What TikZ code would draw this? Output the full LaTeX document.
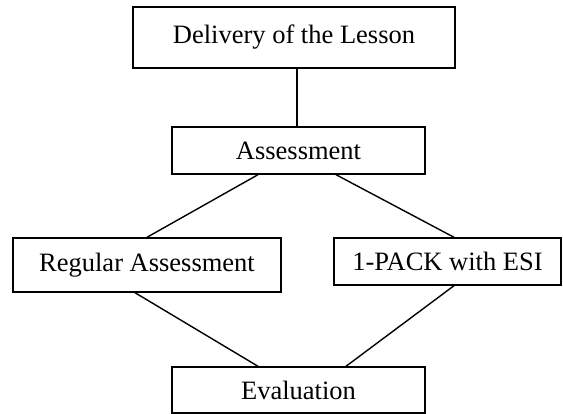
\documentclass[tikz,border=0pt]{standalone}
\usepackage{fontspec}
\setmainfont{Liberation Serif}
\begin{document}
\begin{tikzpicture}[x=1pt,y=1pt,
  box/.style={draw=black, line width=1.4pt, rectangle, inner sep=0pt, align=center,
    font=\fontsize{26.5}{30}\selectfont},
  link/.style={draw=black, line width=1.4pt}]
\useasboundingbox (0,0) rectangle (563,414);
\fill[white] (0,0) rectangle (563,414);
\node[box, minimum width=322pt, minimum height=61pt] (A) at (294,376.5) {Delivery of the Lesson};
\node[box, minimum width=253pt, minimum height=47pt] (B) at (298.5,263.5) {Assessment};
\node[box, minimum width=268pt, minimum height=54pt] (C) at (147,149) {Regular Assessment};
\node[box, minimum width=227pt, minimum height=47pt] (D) at (447.5,152.5) {1-PACK with ESI};
\node[box, minimum width=253pt, minimum height=46pt] (E) at (298.5,24) {Evaluation};
\draw[link] ([xshift=3pt]A.south) -- ([xshift=-1.5pt]B.north);
\draw[link] ([xshift=-40.5pt]B.south) -- (C.north);
\draw[link] ([xshift=37.5pt]B.south) -- ([xshift=6.5pt]D.north);
\draw[link] ([xshift=-12pt]C.south) -- ([xshift=-40.5pt]E.north);
\draw[link] ([xshift=6.5pt]D.south) -- ([xshift=47.5pt]E.north);
\end{tikzpicture}
\end{document}
